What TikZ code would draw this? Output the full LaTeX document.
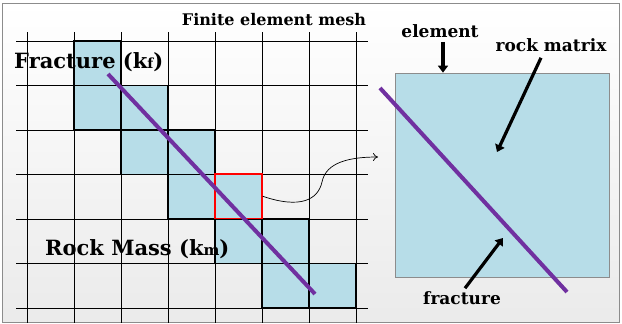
\documentclass[tikz,border=0pt]{standalone}
\usepackage{fontspec}
\setmainfont{DejaVu Serif}
\usepackage{tikz}
\usetikzlibrary{arrows.meta,positioning}
\definecolor{CellBlue}{RGB}{183, 221, 232}
\definecolor{FracPurple}{RGB}{112, 48, 160}
\definecolor{FrameGray}{RGB}{140, 140, 140}

\tikzset{
  meshline/.style={black, line width=0.9pt},
  cell/.style={fill=CellBlue, draw=black, line width=1.1pt},
  fracline/.style={FracPurple, line width=4pt},
  redbox/.style={draw=red, line width=1.3pt, minimum width=47pt, minimum height=44.5pt, inner sep=0pt},
  bigcell/.style={fill=CellBlue, draw=FrameGray, line width=0.7pt, minimum width=214pt, minimum height=204pt, inner sep=0pt},
  bigarrow/.style={line width=3.2pt, -{Triangle[length=7pt,width=10pt]}},
  label/.style={font=\fontsize{16}{16}\selectfont\bfseries, inner sep=0pt},
  biglabel/.style={font=\fontsize{21}{21}\selectfont\bfseries, inner sep=0pt}
}

\begin{document}
\begin{tikzpicture}[x=1pt, y=-1pt]
    \useasboundingbox (0,0) rectangle (622,324);
    % Background
    \shade[top color=white, bottom color=black!8, draw=FrameGray, line width=0.8pt]
      (2,3) rectangle (619,322);

    % Blue cells along the fracture
    \foreach \c/\r in {1/0,1/1,2/1,2/2,3/2,3/3,4/3,4/4,5/4,5/5,6/5} {
      \draw[cell] ({27+47*\c},{41+44.5*\r}) rectangle ++(47,44.5);
    }

    % Mesh lines
    \foreach \i in {0,...,7} {
      \draw[meshline] ({27+47*\i},32) -- ({27+47*\i},323);
    }
    \foreach \j in {0,...,6} {
      \draw[meshline] (16,{41+44.5*\j}) -- (368,{41+44.5*\j});
    }

    % Selected element
    \node[redbox] (sel) at (238.5,196.25) {};

    % Fracture
    \draw[fracline] (108,74) -- (315,294);

    % Labels on the mesh
    \node[label] (mesh) at (274,20) {Finite element mesh};
    \node[biglabel, anchor=base west] (kf) at (14,68)
      {Fracture (k{\fontsize{14}{14}\selectfont f})};
    \node[biglabel, anchor=base west] (km) at (45,255)
      {Rock Mass (k{\fontsize{15}{15}\selectfont m})};

    % Zoom connector
    \coordinate (zoomin) at (378,157);
    \draw[-{To[length=5pt,width=8pt]}, line width=0.7pt]
      (sel.east) .. controls (300,209) and (318,200) .. (322,182)
      .. controls (326,162) and (350,157) .. (zoomin);

    % Zoomed element
    \node[bigcell] (elembox) at (502,175) {};
    \draw[fracline] (380,88) -- (567,292);

    % Labels on the element
    \node[label, font=\fontsize{17}{17}\selectfont\bfseries] (elem) at (440,31) {element};
    \node[label, font=\fontsize{17}{17}\selectfont\bfseries] (rock) at (551,45) {rock matrix};
    \node[label, font=\fontsize{17}{17}\selectfont\bfseries] (frac) at (462,298) {fracture};

    \coordinate (rmtip) at (497,152);
    \coordinate (fractip) at (503,238);
    \draw[bigarrow] ([xshift=3pt,yshift=-4pt]elem.south) -- ([xshift=3pt]elem.south |- elembox.north);
    \draw[bigarrow] ([xshift=-10pt,yshift=-6pt]rock.south) -- (rmtip);
    \draw[bigarrow] ([xshift=3pt,yshift=3pt]frac.north) -- (fractip);
  \end{tikzpicture}
\end{document}
